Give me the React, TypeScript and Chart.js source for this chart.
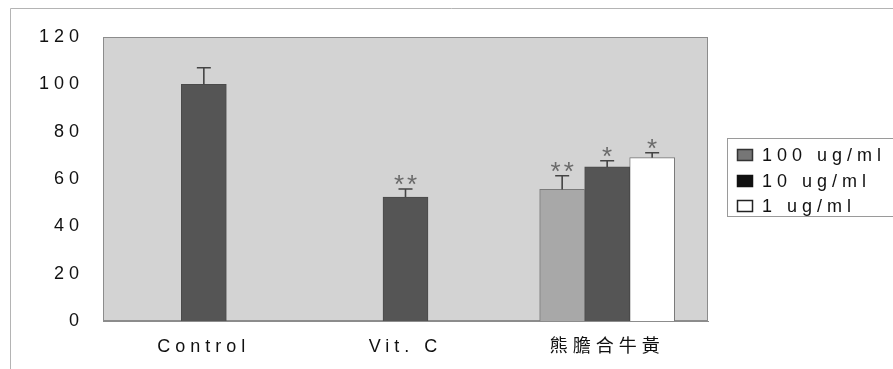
import React, { useEffect, useRef } from "react";
import { Chart, registerables } from "chart.js";

Chart.register(...registerables);

const categories = ["Control", "Vit. C", "熊膽合牛黃"];
const seriesLabels = ["100 ug/ml", "10 ug/ml", "1 ug/ml"];
const values100: (number | null)[] = [null, null, 55.6];
const values10: (number | null)[] = [100, 52.4, 65.1];
const values1: (number | null)[] = [null, null, 69.0];
const err100: (number | null)[] = [null, null, 5.8];
const err10: (number | null)[] = [7.0, 3.4, 2.6];
const err1: (number | null)[] = [null, null, 2.1];
const sig100 = ["", "", "**"];
const sig10 = ["", "**", "*"];
const sig1 = ["", "", "*"];
const yTickValues = [0, 20, 40, 60, 80, 100, 120];

const barColors = ["#a8a8a8", "#555555", "#ffffff"];
const barBorders = ["#7a7a7a", "#4a4a4a", "#7a7a7a"];
const legendSwatches = ["#767676", "#111111", "#ffffff"];
const legendSwatchBorders = ["#333333", "#111111", "#222222"];

const FONT = '"Liberation Sans", Arial, "Noto Sans CJK TC", sans-serif';
const SPACING = "5px";

const spacingPlugin = {
  id: "spacing",
  beforeUpdate(chart: any) {
    chart.ctx.letterSpacing = SPACING;
  },
  beforeLayout(chart: any) {
    chart.ctx.letterSpacing = SPACING;
  },
  beforeDraw(chart: any) {
    chart.ctx.letterSpacing = SPACING;
  },
};

const backgroundPlugin = {
  id: "bgFrame",
  beforeDraw(chart: any) {
    const { ctx, chartArea, width, height } = chart;
    ctx.save();
    ctx.fillStyle = "#ffffff";
    ctx.fillRect(0, 0, width, height);
    // outer frame (top and left)
    ctx.strokeStyle = "#b4b4b4";
    ctx.lineWidth = 1;
    ctx.beginPath();
    ctx.moveTo(10.5, height);
    ctx.lineTo(10.5, 8.5);
    ctx.lineTo(width, 8.5);
    ctx.stroke();
    // plot area
    ctx.fillStyle = "#d3d3d3";
    ctx.fillRect(chartArea.left, chartArea.top, chartArea.right - chartArea.left, chartArea.bottom - chartArea.top);
    ctx.strokeStyle = "#8c8c8c";
    ctx.strokeRect(chartArea.left + 0.5, chartArea.top + 0.5, chartArea.right - chartArea.left - 1, chartArea.bottom - chartArea.top - 1);
    ctx.restore();
  },
};

const errorBarPlugin = {
  id: "errorBars",
  afterDatasetsDraw(chart: any) {
    const { ctx } = chart;
    const yScale = chart.scales.y;
    const errs = [err100, err10, err1];
    const sigs = [sig100, sig10, sig1];
    ctx.save();
    chart.data.datasets.forEach((ds: any, i: number) => {
      const meta = chart.getDatasetMeta(i);
      meta.data.forEach((el: any, j: number) => {
        const v = ds.data[j];
        const e = errs[i][j];
        if (v == null || e == null) return;
        const x = el.x;
        const yBar = yScale.getPixelForValue(v);
        const yTop = yScale.getPixelForValue(v + e);
        ctx.strokeStyle = "#444444";
        ctx.lineWidth = 1.6;
        ctx.beginPath();
        ctx.moveTo(x, yBar);
        ctx.lineTo(x, yTop);
        ctx.moveTo(x - 7, yTop);
        ctx.lineTo(x + 7, yTop);
        ctx.stroke();
        const s = sigs[i][j];
        if (s) {
          ctx.letterSpacing = "3px";
          ctx.font = `26px ${FONT}`;
          ctx.fillStyle = "#6a6a6a";
          ctx.textAlign = "center";
          ctx.textBaseline = "alphabetic";
          ctx.fillText(s, x + 1.5, yTop + 4);
          ctx.letterSpacing = SPACING;
        }
      });
    });
    ctx.restore();
  },
};

const legendPlugin = {
  id: "boxLegend",
  afterDraw(chart: any) {
    const { ctx } = chart;
    const boxLeft = 727.5;
    const boxTop = 138.5;
    const boxW = 200;
    const boxH = 78;
    ctx.save();
    ctx.strokeStyle = "#9a9a9a";
    ctx.lineWidth = 1;
    ctx.strokeRect(boxLeft, boxTop, boxW, boxH);
    ctx.letterSpacing = SPACING;
    ctx.font = `18px ${FONT}`;
    ctx.textAlign = "left";
    ctx.textBaseline = "middle";
    const rows = [155, 181, 206];
    chart.data.datasets.forEach((ds: any, i: number) => {
      const cy = rows[i];
      ctx.fillStyle = legendSwatches[i];
      ctx.fillRect(737, cy - 6, 16, 12);
      ctx.strokeStyle = legendSwatchBorders[i];
      ctx.lineWidth = 1.5;
      ctx.strokeRect(737.5, cy - 5.5, 15, 11);
      ctx.fillStyle = "#111111";
      ctx.fillText(ds.label, 762, cy + 1);
    });
    ctx.restore();
  },
};

export default function App() {
  const canvasRef = useRef<HTMLCanvasElement | null>(null);

  useEffect(() => {
    const canvas = canvasRef.current;
    if (!canvas) return;
    const chart = new Chart(canvas, {
      type: "bar",
      data: {
        labels: categories,
        datasets: [
          {
            label: seriesLabels[0],
            data: values100,
            backgroundColor: barColors[0],
            borderColor: barBorders[0],
            borderWidth: 1,
            barThickness: 45,
            skipNull: true,
          } as any,
          {
            label: seriesLabels[1],
            data: values10,
            backgroundColor: barColors[1],
            borderColor: barBorders[1],
            borderWidth: 1,
            barThickness: 45,
            skipNull: true,
          } as any,
          {
            label: seriesLabels[2],
            data: values1,
            backgroundColor: barColors[2],
            borderColor: barBorders[2],
            borderWidth: 1,
            barThickness: 45,
            skipNull: true,
          } as any,
        ],
      },
      options: {
        animation: false,
        responsive: false,
        devicePixelRatio: 1,
        layout: { padding: { top: 37, right: 185, bottom: 0, left: 0 } },
        plugins: {
          legend: { display: false },
          tooltip: { enabled: false },
        },
        scales: {
          x: {
            grid: { display: false, drawTicks: false },
            border: { display: true, color: "#8c8c8c", width: 1 },
            ticks: {
              color: "#111111",
              font: { family: FONT, size: 18 },
              padding: 15,
            },
            afterFit(scale: any) {
              scale.height = 48;
            },
          },
          y: {
            min: 0,
            max: 120,
            afterBuildTicks(scale: any) {
              scale.ticks = yTickValues.map((v) => ({ value: v }));
            },
            grid: { display: false, drawTicks: false },
            border: { display: true, color: "#8c8c8c", width: 1 },
            ticks: {
              color: "#111111",
              font: { family: FONT, size: 18 },
              padding: 19,
            },
            afterFit(scale: any) {
              scale.width = 103;
            },
          },
        },
      } as any,
      plugins: [spacingPlugin, backgroundPlugin, errorBarPlugin, legendPlugin],
    });
    return () => chart.destroy();
  }, []);

  return (
    <div style={{ position: "absolute", left: 0, top: 0, width: 893, height: 369, overflow: "hidden" }}>
      <canvas ref={canvasRef} width={893} height={369} style={{ display: "block", width: 893, height: 369 }} />
    </div>
  );
}
